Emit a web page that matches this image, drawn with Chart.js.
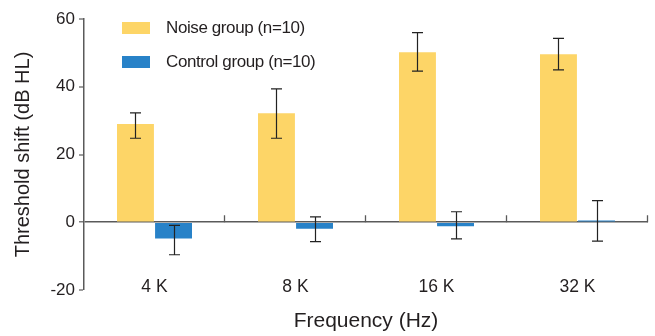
<!DOCTYPE html>
<html>
<head>
<meta charset="utf-8">
<script src="https://cdn.jsdelivr.net/npm/chart.js@4/dist/chart.umd.min.js"></script>
<style>
  html, body { margin: 0; padding: 0; background: #fff; }
  #wrap { width: 655px; height: 336px; }
</style>
</head>
<body>
<div id="wrap"><canvas id="c" width="655" height="336"></canvas></div>
<script>
// ---- data ----
const categories   = ['4 K', '8 K', '16 K', '32 K'];
const noiseLabel   = 'Noise group (n=10)';
const controlLabel = 'Control group (n=10)';
const noiseMean    = [29.0, 32.2, 50.2, 49.6];
const noiseHigh    = [32.3, 39.4, 56.0, 54.3];
const noiseLow     = [24.8, 24.8, 44.6, 45.0];
const controlMean  = [-4.8, -1.9, -1.2, 0.5];
const controlHigh  = [-0.9, 1.6, 3.1, 6.4];
const controlLow   = [-9.6, -5.7, -4.9, -5.6];
const yTicks       = [-20, 0, 20, 40, 60];

const errHigh = [noiseHigh, controlHigh];
const errLow  = [noiseLow, controlLow];

const TEXT = '#231f20';
const AXIS = '#5a5a5a';
const FONT = 'Liberation Sans, Arial, sans-serif';

const errorBars = {
  id: 'errorBars',
  afterDraw(chart) {
    const ctx = chart.ctx;
    const ys = chart.scales.y;
    const xs = chart.scales.x;
    const y0 = ys.getPixelForValue(0);
    ctx.save();
    // upward category separator ticks on the zero line
    const n = categories.length;
    const cw = (xs.right - xs.left) / n;
    ctx.strokeStyle = AXIS;
    ctx.lineWidth = 1.3;
    for (let i = 0; i < n; i++) {
      const bx = Math.round(xs.getPixelForValue(i) + cw / 2) - 0.5;
      ctx.beginPath();
      ctx.moveTo(bx, y0 - 7);
      ctx.lineTo(bx, y0);
      ctx.stroke();
    }
    // error bars
    ctx.strokeStyle = '#222';
    ctx.lineWidth = 1.2;
    chart.data.datasets.forEach((ds, d) => {
      const meta = chart.getDatasetMeta(d);
      meta.data.forEach((bar, i) => {
        const x = Math.round(bar.x) + 0.5;
        const yh = ys.getPixelForValue(errHigh[d][i]);
        const yl = ys.getPixelForValue(errLow[d][i]);
        ctx.beginPath();
        ctx.moveTo(x, yh); ctx.lineTo(x, yl);
        ctx.moveTo(x - 5.5, yh); ctx.lineTo(x + 5.5, yh);
        ctx.moveTo(x - 5.5, yl); ctx.lineTo(x + 5.5, yl);
        ctx.stroke();
      });
    });
    // legend
    const ca = chart.chartArea;
    ctx.font = '17px ' + FONT;
    ctx.textBaseline = 'middle';
    ctx.textAlign = 'left';
    try { ctx.letterSpacing = '-0.4px'; } catch (e) {}
    chart.data.datasets.forEach((ds, d) => {
      const top = ca.top + 3 + d * 34;
      ctx.fillStyle = ds.backgroundColor;
      ctx.fillRect(ca.left + 38, top, 28, 12);
      ctx.fillStyle = TEXT;
      ctx.fillText(ds.label, ca.left + 82, top + 6.5);
    });
    ctx.restore();
  }
};

new Chart(document.getElementById('c'), {
  type: 'bar',
  data: {
    labels: categories,
    datasets: [
      { label: noiseLabel, data: noiseMean, backgroundColor: '#FDD567', borderWidth: 0,
        categoryPercentage: 0.54, barPercentage: 0.97 },
      { label: controlLabel, data: controlMean, backgroundColor: '#2882C8', borderWidth: 0,
        categoryPercentage: 0.54, barPercentage: 0.97 }
    ]
  },
  options: {
    responsive: false,
    animation: false,
    devicePixelRatio: 1,
    layout: { padding: { top: 19, right: 7, bottom: 0, left: 0 } },
    plugins: {
      legend: { display: false },
      tooltip: { enabled: false },
      title: { display: false }
    },
    scales: {
      x: {
        grid: { display: false },
        border: { display: false },
        ticks: { color: TEXT, font: { family: FONT, size: 17.5 }, mirror: true, padding: -7.5, maxRotation: 0 },
        title: { display: true, text: 'Frequency (Hz)', color: TEXT,
                 font: { family: FONT, size: 21 }, padding: { top: 0, bottom: 2 } },
        afterFit(s) { s.height = 46; }
      },
      y: {
        min: -20, max: 60,
        afterBuildTicks(s) { s.ticks = yTicks.map(v => ({ value: v })); },
        grid: {
          drawOnChartArea: true,
          color: c => (c.tick && c.tick.value === 0) ? AXIS : 'rgba(0,0,0,0)',
          lineWidth: c => (c.tick && c.tick.value === 0) ? 1.6 : 0,
          tickColor: AXIS, tickWidth: 1.2, tickLength: 5
        },
        border: { display: true, color: AXIS, width: 1.5 },
        ticks: { color: TEXT, font: { family: FONT, size: 17 }, padding: 4 },
        title: { display: true, text: 'Threshold shift (dB HL)', color: TEXT,
                 font: { family: FONT, size: 20 }, padding: { top: 11, bottom: 0 } },
        afterFit(s) { s.width = 84; }
      }
    }
  },
  plugins: [errorBars]
});
</script>
</body>
</html>
